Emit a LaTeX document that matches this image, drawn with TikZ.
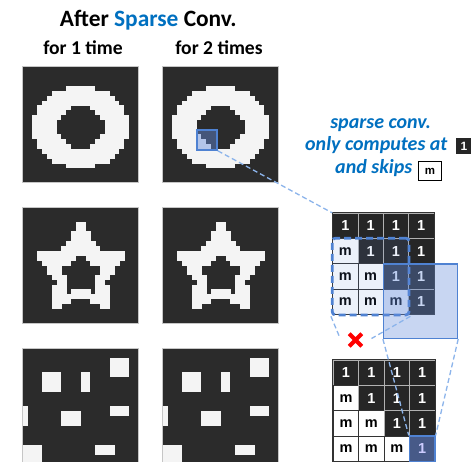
\documentclass[tikz,border=0pt]{standalone}
\usepackage{fontspec}
\setmainfont{Carlito}
\newfontfamily\arialf{Liberation Sans}
\usetikzlibrary{fit,calc}
\definecolor{dk}{HTML}{2B2B2B}
\definecolor{wh}{HTML}{F4F4F4}
\definecolor{txtblue}{HTML}{0070C0}
\definecolor{winblue}{HTML}{4F82D2}
\definecolor{winfill}{RGB}{100,140,220}
\definecolor{lnblue}{RGB}{140,180,235}
\definecolor{celldk}{HTML}{262626}
\definecolor{hlcell}{HTML}{475A88}
\def\cs{4.8333}
\def\oA{10.4}\def\oB{5.7}\def\iA{4.9}\def\iB{2.75}
\def\cyO{13.0}\def\cyH{13.7}
\newcommand\cfnt{\arialf\bfseries\fontsize{14.5}{14.5}\selectfont}
\newcommand\drawO{%
 \foreach \r/\a/\b in {4/9/14,5/6/17,6/5/18,7/4/19,8/3/9,8/14/20,9/3/8,9/15/20,
   10/2/7,10/16/21,11/2/6,11/17/21,12/2/6,12/17/21,13/2/6,13/17/21,14/2/7,14/16/21,
   15/3/8,15/15/20,16/3/9,16/14/20,17/4/19,18/5/18,19/6/17,20/9/14}{%
   \fill[wh] ({\a*\cs},{\r*\cs}) rectangle ({(\b+1)*\cs},{(\r+1)*\cs+0.3});}}
\newcommand\drawRand{%
 \foreach \a/\r/\b/\s in {18/2/21/5,4/5/7/8,12/5/13/8,0/12/0/15,8/13/11/15,18/12/21/13,0/20/3/23,15/20/18/21}{%
   \fill[wh] ({\a*\cs},{\r*\cs}) rectangle ({(\b+1)*\cs},{(\s+1)*\cs});}}
\newcommand\drawStar{%
 \foreach \j in {0,...,23}{%
  \foreach \i in {0,...,23}{%
   \pgfmathsetmacro\sDx{\i+0.5-12}%
   \pgfmathsetmacro\sDy{\cyO-\j-0.5}%
   \pgfmathsetmacro\sR{veclen(\sDx,\sDy)}%
   \pgfmathsetmacro\sT{Mod(atan2(\sDy,\sDx)-90,72)}%
   \pgfmathsetmacro\sF{min(\sT,72-\sT)}%
   \pgfmathsetmacro\sRo{\oA*\oB*sin(36)/(\oB*sin(36)*cos(\sF)+(\oA-\oB*cos(36))*sin(\sF))}%
   \pgfmathsetmacro\hDy{\cyH-\j-0.5}%
   \pgfmathsetmacro\hR{veclen(\sDx,\hDy)}%
   \pgfmathsetmacro\hT{Mod(atan2(\hDy,\sDx)-90,72)}%
   \pgfmathsetmacro\hF{min(\hT,72-\hT)}%
   \pgfmathsetmacro\sRh{\iA*\iB*sin(36)/(\iB*sin(36)*cos(\hF)+(\iA-\iB*cos(36))*sin(\hF))}%
   \pgfmathtruncatemacro\sOn{and(\sR<=\sRo,\hR>\sRh)}%
   \ifnum\sOn=1 \fill[wh] ({\i*\cs},{\j*\cs}) rectangle ({(\i+1)*\cs+0.3},{(\j+1)*\cs+0.3});\fi
  }}}
\begin{document}
\begin{tikzpicture}[x=1pt,y=-1pt,
  panel/.style={fill=dk, draw=gray!45, line width=0.6pt, minimum size=116, inner sep=0, outer sep=0, anchor=north west},
  onecell/.style={fill=celldk, draw=gray!60, line width=0.8, text=white, minimum size=25.3, inner sep=0, font=\cfnt},
  mcell/.style={fill=white, draw=black!80, line width=0.8, text=black, minimum size=25.3, inner sep=0, font=\cfnt},
  conn/.style={draw=lnblue, line width=1.3, dash pattern=on 5pt off 3pt},
  bluetxt/.style={text=txtblue, font=\fontsize{20}{24}\selectfont\bfseries\itshape, inner sep=0},
  head/.style={font=\fontsize{19.6}{24}\selectfont\bfseries, inner sep=0, anchor=base}]
\useasboundingbox (0,0) rectangle (471,462);
\clip (0,0) rectangle (471,462);
\fill[white] (0,0) rectangle (471,462);
% titles
\node[anchor=base, inner sep=0, font=\fontsize{23.4}{28}\selectfont\bfseries] (title) at (148.3,26.7) {After \textcolor{txtblue}{Sparse} Conv.};
\node[head] (t1) at (83,55) {for 1 time};
\node[head] (t2) at (219,55) {for 2 times};
% panels
\foreach \px/\nm in {22.7/1,162.7/2}{
  \node[panel] (po\nm) at (\px,66.7) {};
  \begin{scope}[shift={(\px,66.7)}]\drawO\end{scope}
  \node[panel] (ps\nm) at (\px,207.3) {};
  \begin{scope}[shift={(\px,207.3)}]\drawStar\end{scope}
  \node[panel] (pr\nm) at (\px,348.3) {};
  \begin{scope}[shift={(\px,348.3)}]\drawRand\end{scope}
}
% highlight in O
\node[draw=winblue, line width=1.6, fill=winfill, fill opacity=0.45, minimum size=20, inner sep=0, anchor=north west] (hl) at (196.2,129.2) {};
% explanation text
\node[bluetxt, anchor=base] (s1) at (380.7,128.3) {sparse conv.};
\node[bluetxt, anchor=base west] (s2) at (305,151) {only computes at};
\node[bluetxt, anchor=base west] (s3) at (335,174) {and skips};
\node[fill=celldk, text=white, font=\arialf\bfseries\fontsize{12}{12}\selectfont, minimum width=17, minimum height=16, inner sep=0] (k1) at (464,146.3) {1};
\node[fill=white, draw=black, line width=1, minimum width=23.5, minimum height=18.5, inner sep=0, font=\arialf\bfseries\fontsize{11.5}{11.5}\selectfont] (km) at (430,171) {m};
% grid A
\foreach \r in {0,...,3}{\foreach \c in {0,...,3}{
  \ifnum\c<\r
    \node[mcell] (ga-\r-\c) at ({332.7+(\c+0.5)*25.3},{213.3+(\r+0.5)*25.3}) {m};
  \else
    \node[onecell] (ga-\r-\c) at ({332.7+(\c+0.5)*25.3},{213.3+(\r+0.5)*25.3}) {1};
  \fi}}
\node[fit=(ga-0-0)(ga-3-3), inner sep=0, draw=black!80, line width=1] (ga) {};
\node[fit=(ga-1-0)(ga-3-2), inner sep=0, draw=winblue, line width=2.8, dash pattern=on 7pt off 4pt, rounded corners=3, fill=winfill, fill opacity=0.12] (dwin) {};
\node[anchor=north west, minimum width=74, minimum height=74.3, inner sep=0, draw=winblue, line width=1.3, fill=winfill, fill opacity=0.35] (swin) at (ga-2-2.north west) {};
% grid B
\foreach \r in {0,...,3}{\foreach \c in {0,...,3}{
  \ifnum\c<\r
    \node[mcell, minimum size=25.4] (gb-\r-\c) at ({333.3+(\c+0.5)*25.4},{360+(\r+0.5)*25.4}) {m};
  \else
    \node[onecell, minimum size=25.4] (gb-\r-\c) at ({333.3+(\c+0.5)*25.4},{360+(\r+0.5)*25.4}) {1};
  \fi}}
\node[fit=(gb-0-0)(gb-3-3), inner sep=0, draw=black!80, line width=1] (gb) {};
\node[fill=hlcell, draw=winblue, line width=1.5, text=white!80!blue, minimum size=25.4, inner sep=0, font=\cfnt] (gbh) at (gb-3-3) {1};
% connectors
\coordinate (x2) at (340,338);
\coordinate (x3) at (371.5,338.5);
\draw[conn] (hl.south east) -- (ga-0-0.north west);
\draw[conn] (dwin.south west) -- (x2);
\draw[conn] (dwin.south east) -- (x3);
\draw[conn] (swin.south west) -- (gbh.north west);
\draw[conn] (swin.south east) -- (gbh.north east);
% red cross
\coordinate (xm) at (355.5,340);
\draw[red, line width=4] ($(xm)+(-6.3,-6.3)$) -- ($(xm)+(6.3,6.3)$) ($(xm)+(-6.3,6.3)$) -- ($(xm)+(6.3,-6.3)$);
\end{tikzpicture}
\end{document}
